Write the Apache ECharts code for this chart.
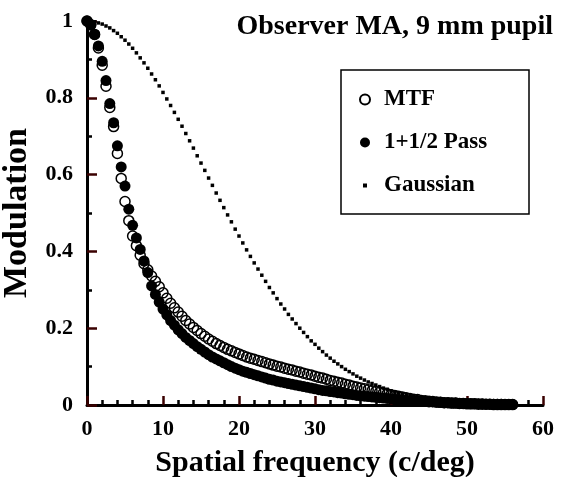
<!DOCTYPE html>
<html>
<head>
<meta charset="utf-8">
<script src="https://cdn.jsdelivr.net/npm/echarts@6/dist/echarts.min.js"></script>
<style>
html, body { margin: 0; padding: 0; background: #fff; }
#chart { width: 564px; height: 477px; }
</style>
</head>
<body>
<div id="chart"></div>
<script>
// spatial frequency samples (c/deg)
var freq = [
    0, 0.5, 1, 1.5, 2, 2.5, 3, 3.5, 4, 4.5,
    5, 5.5, 6, 6.5, 7, 7.5, 8, 8.5, 9, 9.5,
    10, 10.5, 11, 11.5, 12, 12.5, 13, 13.5, 14, 14.5,
    15, 15.5, 16, 16.5, 17, 17.5, 18, 18.5, 19, 19.5,
    20, 20.5, 21, 21.5, 22, 22.5, 23, 23.5, 24, 24.5,
    25, 25.5, 26, 26.5, 27, 27.5, 28, 28.5, 29, 29.5,
    30, 30.5, 31, 31.5, 32, 32.5, 33, 33.5, 34, 34.5,
    35, 35.5, 36, 36.5, 37, 37.5, 38, 38.5, 39, 39.5,
    40, 40.5, 41, 41.5, 42, 42.5, 43, 43.5, 44, 44.5,
    45, 45.5, 46, 46.5, 47, 47.5, 48, 48.5, 49, 49.5,
    50, 50.5, 51, 51.5, 52, 52.5, 53, 53.5, 54, 54.5,
    55, 55.5, 56
];

var mtf = [
    1.000, 0.990, 0.965, 0.930, 0.885, 0.830, 0.775, 0.725, 0.655, 0.590,
    0.530, 0.480, 0.440, 0.415, 0.390, 0.368, 0.352, 0.336, 0.322, 0.308,
    0.292, 0.278, 0.265, 0.253, 0.242, 0.231, 0.220, 0.211, 0.202, 0.194,
    0.186, 0.179, 0.172, 0.166, 0.160, 0.155, 0.150, 0.145, 0.141, 0.137,
    0.133, 0.129, 0.125, 0.122, 0.119, 0.116, 0.113, 0.110, 0.107, 0.104,
    0.101, 0.099, 0.096, 0.093, 0.091, 0.088, 0.086, 0.083, 0.080, 0.078,
    0.075, 0.072, 0.070, 0.067, 0.064, 0.062, 0.059, 0.057, 0.054, 0.052,
    0.049, 0.047, 0.044, 0.042, 0.040, 0.037, 0.035, 0.033, 0.031, 0.029,
    0.027, 0.025, 0.023, 0.021, 0.019, 0.017, 0.015, 0.014, 0.012, 0.011,
    0.010, 0.009, 0.008, 0.007, 0.006, 0.006, 0.005, 0.005, 0.004, 0.004,
    0.003, 0.003, 0.003, 0.002, 0.002, 0.002, 0.002, 0.001, 0.001, 0.001,
    0.001, 0.001, 0.001
];

var pass = [
    1.000, 0.990, 0.965, 0.935, 0.895, 0.845, 0.785, 0.735, 0.675, 0.620,
    0.570, 0.510, 0.468, 0.435, 0.405, 0.375, 0.345, 0.310, 0.288, 0.268,
    0.250, 0.235, 0.220, 0.208, 0.196, 0.186, 0.176, 0.168, 0.160, 0.152,
    0.145, 0.138, 0.131, 0.125, 0.120, 0.115, 0.110, 0.105, 0.100, 0.096,
    0.092, 0.088, 0.085, 0.082, 0.079, 0.076, 0.073, 0.070, 0.067, 0.065,
    0.062, 0.060, 0.058, 0.056, 0.054, 0.052, 0.050, 0.048, 0.046, 0.044,
    0.042, 0.040, 0.038, 0.037, 0.035, 0.034, 0.032, 0.031, 0.029, 0.028,
    0.027, 0.025, 0.024, 0.023, 0.022, 0.021, 0.020, 0.019, 0.018, 0.017,
    0.016, 0.015, 0.014, 0.013, 0.012, 0.012, 0.011, 0.010, 0.010, 0.009,
    0.008, 0.008, 0.007, 0.007, 0.006, 0.006, 0.005, 0.005, 0.004, 0.004,
    0.004, 0.003, 0.003, 0.003, 0.003, 0.002, 0.002, 0.002, 0.002, 0.002,
    0.001, 0.001, 0.001
];

var gauss = [
    1.000, 0.999, 0.998, 0.995, 0.992, 0.987, 0.982, 0.975, 0.968, 0.959,
    0.950, 0.940, 0.929, 0.917, 0.904, 0.891, 0.877, 0.862, 0.847, 0.831,
    0.814, 0.797, 0.780, 0.762, 0.744, 0.726, 0.707, 0.688, 0.669, 0.649,
    0.630, 0.611, 0.591, 0.572, 0.552, 0.533, 0.514, 0.495, 0.477, 0.458,
    0.440, 0.422, 0.404, 0.387, 0.370, 0.354, 0.338, 0.322, 0.306, 0.292,
    0.277, 0.263, 0.250, 0.236, 0.224, 0.212, 0.200, 0.189, 0.178, 0.167,
    0.158, 0.148, 0.139, 0.130, 0.122, 0.114, 0.107, 0.100, 0.093, 0.087,
    0.081, 0.075, 0.070, 0.065, 0.060, 0.056, 0.052, 0.048, 0.044, 0.041,
    0.037, 0.034, 0.032, 0.029, 0.027, 0.025, 0.022, 0.021, 0.019, 0.017,
    0.016, 0.014, 0.013, 0.012, 0.011, 0.010, 0.009, 0.008, 0.007, 0.006,
    0.006, 0.005, 0.005, 0.004, 0.004, 0.003, 0.003, 0.003, 0.002, 0.002,
    0.002, 0.002, 0.001
];

var seriesNames = ['MTF', '1+1/2 Pass', 'Gaussian'];
var titleText = 'Observer MA, 9 mm pupil';

var font = 'Liberation Serif, Times New Roman, serif';
var ink = 'rgb(1,1,1)';
var tickInk = '#3a0000';

function pairs(ys) {
    return freq.map(function (f, i) { return [f, ys[i]]; });
}

var chart = echarts.init(document.getElementById('chart'), null, { renderer: 'canvas' });

chart.setOption({
    animation: false,
    backgroundColor: '#fff',
    title: {
        text: titleText,
        right: 11,
        top: 13,
        padding: 0,
        textStyle: { fontFamily: font, fontWeight: 'bold', fontSize: 28, color: '#000' }
    },
    legend: {
        orient: 'vertical',
        left: 355,
        top: 88,
        padding: 0,
        itemWidth: 20,
        itemHeight: 10,
        itemGap: 20,
        data: [
            { name: seriesNames[0] },
            { name: seriesNames[1] },
            { name: seriesNames[2], icon: 'path://M0,0M20,10M8,3h4v4h-4z' }
        ],
        textStyle: { fontFamily: font, fontWeight: 'bold', fontSize: 23, color: '#000', padding: [0, 0, 0, 4] }
    },
    // legend frame
    graphic: [{
        type: 'rect',
        shape: { x: 341, y: 70, width: 188, height: 144 },
        style: { fill: 'none', stroke: '#000', lineWidth: 1.5 },
        z: 1
    }],
    grid: { left: 87, right: 21, top: 21, bottom: 72, outerBoundsMode: 'none', containLabel: false },
    xAxis: {
        type: 'value',
        min: 0,
        max: 60,
        interval: 10,
        name: 'Spatial frequency (c/deg)',
        nameLocation: 'middle',
        nameGap: 43,
        nameTextStyle: { fontFamily: font, fontWeight: 'bold', fontSize: 30, color: '#000' },
        axisLine: { show: true, lineStyle: { color: '#000', width: 3 } },
        axisTick: { show: true, inside: true, length: 9, lineStyle: { color: tickInk, width: 2.5 } },
        minorTick: { show: true, splitNumber: 5, length: 5, lineStyle: { color: ink, width: 2.5 } },
        splitLine: { show: false },
        axisLabel: { fontFamily: font, fontWeight: 'bold', fontSize: 22, color: '#000', margin: 13 }
    },
    yAxis: {
        type: 'value',
        min: 0,
        max: 1,
        interval: 0.2,
        name: 'Modulation',
        nameLocation: 'middle',
        nameGap: 34,
        nameTextStyle: { fontFamily: font, fontWeight: 'bold', fontSize: 34, color: '#000' },
        axisLine: { show: true, lineStyle: { color: '#000', width: 3 } },
        axisTick: { show: true, inside: true, length: 10, lineStyle: { color: tickInk, width: 2.5 } },
        minorTick: { show: true, splitNumber: 2, length: 5, lineStyle: { color: ink, width: 2.5 } },
        splitLine: { show: false },
        axisLabel: { fontFamily: font, fontWeight: 'bold', fontSize: 22, color: '#000', margin: 14 }
    },
    series: [
        {
            name: seriesNames[2],
            type: 'scatter',
            symbol: 'rect',
            symbolSize: 3.5,
            itemStyle: { color: '#000', opacity: 1 },
            data: pairs(gauss),
            clip: false
        },
        {
            name: seriesNames[0],
            type: 'scatter',
            symbol: 'circle',
            symbolSize: 10,
            itemStyle: { color: 'rgba(255,255,255,0)', borderColor: '#000', borderWidth: 1.5, opacity: 1 },
            data: pairs(mtf),
            clip: false
        },
        {
            name: seriesNames[1],
            type: 'scatter',
            symbol: 'circle',
            symbolSize: 11,
            itemStyle: { color: '#000', opacity: 1 },
            data: pairs(pass),
            clip: false
        }
    ]
});
</script>
</body>
</html>
